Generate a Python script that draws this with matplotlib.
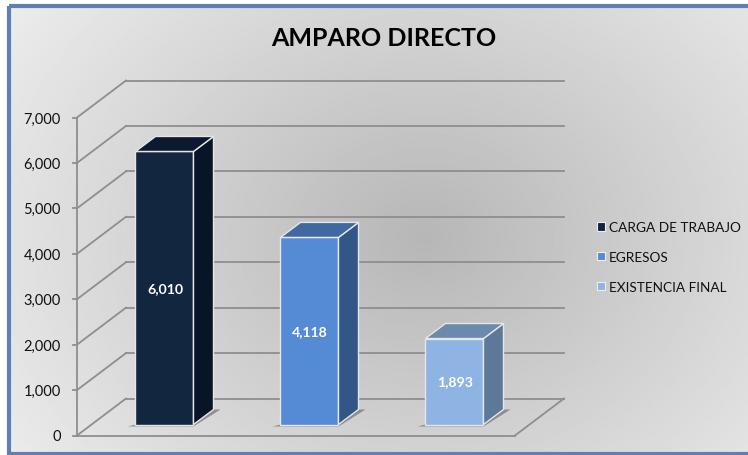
import numpy as np
import matplotlib
matplotlib.use("Agg")
import matplotlib.pyplot as plt
from matplotlib.patches import Polygon, Patch, Rectangle

plt.rcParams['font.family'] = ['Lato', 'DejaVu Sans']

# datos
categorias = ["CARGA DE TRABAJO", "EGRESOS", "EXISTENCIA FINAL"]
valores = [6010, 4118, 1893]
ticks = [0, 1000, 2000, 3000, 4000, 5000, 6000, 7000]
titulo = "AMPARO DIRECTO"

col_frente = ["#12263f", "#558ad5", "#8db4e2"]
col_lado = ["#081526", "#325686", "#5d7899"]
col_tapa = ["#0b1a30", "#3f69a0", "#6c89ae"]

W, H = 748, 456
# escala: pixeles de la figura <-> datos
PX_Y = 318 / 7000      # px por unidad de valor
PX_X = 145             # px entre categorias
X0, Y0 = 164.5, 436.5  # px de la categoria 0 y del valor 0

fig = plt.figure(figsize=(W / 100, H / 100), dpi=100, facecolor="white")

# fondo con degradado
bg = fig.add_axes([0, 0, 1, 1])
bg.set_xlim(0, W)
bg.set_ylim(H, 0)
bg.axis("off")
yy, xx = np.mgrid[0:H, 0:W]
d = np.sqrt(((xx - 420) / 520) ** 2 + ((yy - 235) / 420) ** 2)
g = 0.715 + 0.215 * np.clip(d, 0, 1)
bg.imshow(g, cmap="gray", vmin=0, vmax=1, extent=[9, W, 455, 7], aspect="auto",
          interpolation="bilinear", zorder=0)
bg.set_xlim(0, W)
bg.set_ylim(H, 0)
bg.add_patch(Rectangle((9, 6.5), W + 5, 448.5, fill=False, ec="#5f7fb5", lw=3, zorder=1))

ax = fig.add_axes([0, 0, 1, 1])
ax.patch.set_alpha(0)
ax.axis("off")
ax.set_xlim(-X0 / PX_X, (W - X0) / PX_X)
ax.set_ylim(-(H - Y0) / PX_Y, Y0 / PX_Y)

# profundidad del 3D en unidades de datos
dx = 49 / PX_X
dy = 37 / PX_Y
xizq = (77 - X0) / PX_X
xder = (515 - X0) / PX_X
gris = "#8e8e8e"

for t in ticks:
    ax.plot([xizq + dx, xder + dx], [t + dy, t + dy], color=gris, lw=1.3, zorder=2)
    ax.plot([xizq, xizq + dx], [t, t + dy], color=gris, lw=1.3, zorder=2)
    ax.plot([xizq - 4 / PX_X, xizq], [t, t], color=gris, lw=1.3, zorder=2)
    ax.text(xizq - 16 / PX_X, t - 1 / PX_Y, f"{t:,}", ha="right", va="center", fontsize=10.5,
            color="#111111")
ax.plot([xizq, xizq], [0, ticks[-1]], color=gris, lw=1.3, zorder=2)
ax.plot([xizq, xder], [0, 0], color=gris, lw=1.3, zorder=2)
ax.plot([xder, xder + dx], [0, dy], color=gris, lw=1.3, zorder=2)

# barras
ancho = 58 / PX_X
bdx = 20 / PX_X
bdy = 15 / PX_Y
base = 11 / PX_Y
for i, v in enumerate(valores):
    x0 = i - ancho / 2
    x1 = i + ancho / 2
    # sombra
    ax.add_patch(Polygon([(x0 - 8 / PX_X, base - 2 / PX_Y), (x1, base - 2 / PX_Y),
                          (x1 + bdx + 7 / PX_X, base + bdy), (x1 + bdx, base + bdy),
                          (x1, base), (x0, base)],
                         fc="#555555", ec="none", alpha=0.55, zorder=3))
    arriba = base + v
    ax.add_patch(Polygon([(x0, base), (x1, base), (x1, arriba), (x0, arriba)],
                         fc=col_frente[i], ec="#e6e6e6", lw=1, zorder=4))
    ax.add_patch(Polygon([(x1, base), (x1 + bdx, base + bdy), (x1 + bdx, arriba + bdy), (x1, arriba)],
                         fc=col_lado[i], ec="#e6e6e6", lw=1, zorder=4))
    ax.add_patch(Polygon([(x0, arriba), (x1, arriba), (x1 + bdx, arriba + bdy), (x0 + bdx, arriba + bdy)],
                         fc=col_tapa[i], ec="#e6e6e6", lw=1, zorder=4))
    ax.text(i + 0.5 / PX_X, base + v / 2, f"{v:,}", ha="center", va="center", fontsize=10.2,
            fontweight="bold", color="white", zorder=5)

fig.text(384 / W, 1 - 38 / H, titulo, ha="center", va="center", fontsize=18, fontweight="bold",
         color="black")

handles = [Patch(fc=c, ec="#eeeeee", lw=0.8, label=n) for c, n in zip(col_frente, categorias)]
ax.legend(handles=handles, loc="upper left", bbox_to_anchor=(585 / W, 1 - 210 / H),
          frameon=False, fontsize=9.8, labelspacing=1.3, handlelength=0.55, handleheight=0.55,
          handletextpad=0.3, labelcolor="#111111")

fig.savefig("out.png", dpi=100)
